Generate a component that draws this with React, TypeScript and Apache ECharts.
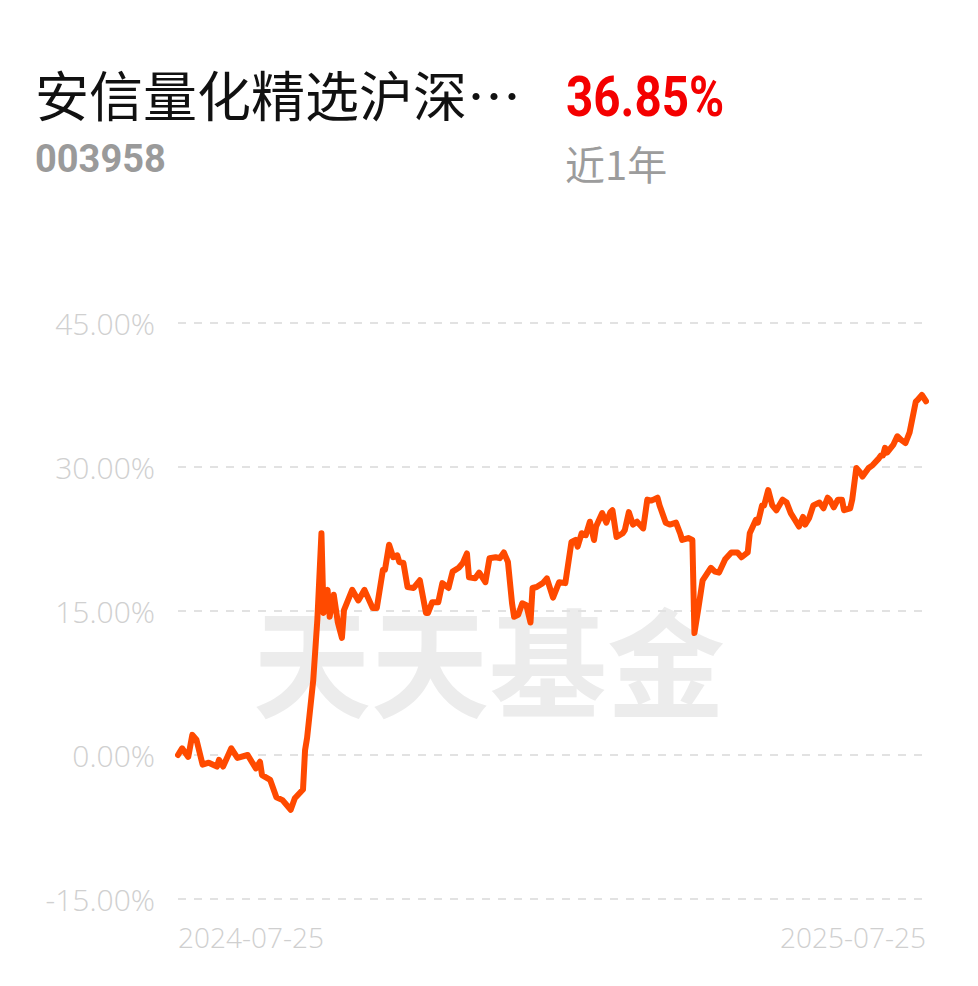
import React, { useEffect, useRef } from "react";
import * as echarts from "echarts";

const fundName = "安信量化精选沪深…";
const fundCode = "003958";
const periodReturn = "36.85%";
const periodLabel = "近1年";
const watermark = "天天基金";

const xTickLabels = ["2024-07-25", "2025-07-25"];
const xSpanDays = 365;

const yMin = -15;
const yMax = 45;
const yStep = 15;

// day offset from 2024-07-25
const dayOffsets = [
  0, 2, 5, 7, 9, 12, 15, 19, 20, 22,
  26, 29, 34, 38, 40, 41, 45, 48, 51, 55,
  57, 61, 62, 63, 66, 68, 70, 71, 73, 74,
  76, 78, 80, 81, 85, 88, 91, 95, 97, 100,
  101, 103, 105, 107, 108, 110, 112, 115, 118, 121,
  122, 124, 127, 129, 132, 134, 137, 139, 141, 142,
  145, 147, 150, 152, 155, 157, 159, 161, 163, 164,
  166, 168, 170, 172, 173, 175, 178, 180, 183, 186,
  189, 192, 194, 195, 197, 199, 201, 203, 204, 207,
  209, 211, 212, 214, 217, 218, 220, 222, 224, 227,
  229, 231, 234, 235, 238, 240, 243, 245, 246, 249,
  251, 252, 254, 256, 260, 262, 264, 267, 270, 273,
  275, 278, 279, 282, 283, 285, 286, 288, 290, 292,
  295, 297, 299, 301, 303, 305, 306, 308, 310, 313,
  315, 317, 318, 320, 322, 324, 325, 328, 329, 331,
  333, 334, 337, 339, 342, 343, 344, 345, 346, 349,
  351, 353, 355, 357, 360, 361, 363, 365,
];

// cumulative return, %
const returns = [
  0.0, 0.7, -0.2, 2.1, 1.6, -1.0, -0.8, -1.2, -0.5, -1.2,
  0.7, -0.3, 0.0, -1.4, -0.7, -2.1, -2.6, -4.4, -4.7, -5.7,
  -4.5, -3.6, 0.5, 1.8, 7.8, 14.1, 23.1, 14.8, 17.2, 14.4,
  16.7, 13.8, 12.2, 15.1, 17.2, 16.1, 17.2, 15.3, 15.3, 19.3,
  19.3, 21.9, 20.6, 20.8, 20.1, 20.0, 17.5, 17.4, 18.2, 14.8,
  14.8, 15.9, 15.9, 17.9, 17.4, 19.1, 19.5, 20.0, 21.0, 18.5,
  18.4, 19.0, 18.0, 20.5, 20.6, 20.5, 21.1, 20.1, 15.8, 14.4,
  14.6, 15.8, 15.6, 13.8, 17.4, 17.5, 17.9, 18.4, 16.4, 18.0,
  17.9, 22.2, 22.4, 21.7, 23.1, 22.9, 24.3, 22.4, 23.8, 25.2,
  24.2, 25.3, 25.5, 22.7, 23.1, 23.4, 25.3, 24.0, 24.3, 23.6,
  26.6, 26.5, 26.8, 26.0, 24.2, 24.0, 24.2, 23.1, 22.4, 22.6,
  22.4, 12.7, 15.4, 18.2, 19.5, 19.1, 19.0, 20.4, 21.1, 21.1,
  20.6, 21.1, 23.1, 24.5, 24.2, 26.0, 26.0, 27.6, 26.0, 25.5,
  26.6, 26.3, 25.2, 24.5, 23.8, 24.8, 24.0, 24.7, 26.0, 26.3,
  25.7, 26.8, 26.6, 25.8, 26.6, 26.6, 25.5, 25.7, 26.6, 29.9,
  29.4, 29.0, 29.9, 30.2, 30.9, 31.2, 31.2, 32.0, 31.5, 32.3,
  33.2, 32.8, 32.5, 33.6, 36.8, 37.0, 37.5, 36.85,
];

export default function App() {
  const ref = useRef<HTMLDivElement>(null);

  useEffect(() => {
    document.body.style.margin = "0";
    if (!ref.current) return;
    const chart = echarts.init(ref.current, null, { renderer: "svg" });
    const seriesData = dayOffsets.map((d, i) => [d, returns[i]]);
    const axisFont = "'Open Sans', 'Noto Sans', sans-serif";

    chart.setOption({
      animation: false,
      backgroundColor: "#ffffff",
      grid: { left: 178, right: 52, top: 323, bottom: 87, containLabel: false },
      xAxis: {
        type: "value",
        min: 0,
        max: xSpanDays,
        interval: xSpanDays,
        axisLine: { show: false },
        axisTick: { show: false },
        splitLine: { show: false },
        axisLabel: {
          margin: 24,
          color: "#cfcfcf",
          fontSize: 28,
          fontWeight: 300,
          fontFamily: axisFont,
          alignMinLabel: "left",
          alignMaxLabel: "right",
          formatter: (v: number) => (v === 0 ? xTickLabels[0] : xTickLabels[1]),
        },
      },
      yAxis: {
        type: "value",
        min: yMin,
        max: yMax,
        interval: yStep,
        axisLine: { show: false },
        axisTick: { show: false },
        axisLabel: {
          margin: 23,
          color: "#d0d0d0",
          fontSize: 30,
          fontWeight: 300,
          fontFamily: axisFont,
          formatter: (v: number) => `${v.toFixed(2)}%`,
        },
        splitLine: {
          show: true,
          lineStyle: { color: "#e2e2e2", width: 2, type: [8, 8] },
        },
      },
      graphic: {
        elements: [
          {
            type: "text",
            left: 253,
            top: 598,
            z: -10,
            silent: true,
            style: {
              text: watermark,
              fontSize: 118,
              fontWeight: "bold",
              fontFamily: "'Noto Sans CJK SC', sans-serif",
              fill: "#ececec",
            },
          },
          {
            type: "text",
            x: 35,
            y: 93,
            style: {
              text: fundName,
              fontSize: 54,
              fontFamily: "'Noto Sans CJK SC', sans-serif",
              fill: "#111111",
              verticalAlign: "middle",
            },
          },
          {
            type: "text",
            x: 35,
            y: 159,
            style: {
              text: fundCode,
              fontSize: 38,
              fontWeight: "bold",
              fontFamily: "Roboto, sans-serif",
              fill: "#9a9a9a",
              verticalAlign: "middle",
            },
          },
          {
            type: "text",
            x: 566,
            y: 97,
            scaleX: 0.85,
            style: {
              text: periodReturn,
              fontSize: 56,
              fontWeight: "bold",
              fontFamily: "Roboto, sans-serif",
              fill: "#f40000",
              verticalAlign: "middle",
            },
          },
          {
            type: "text",
            x: 565,
            y: 163,
            style: {
              text: periodLabel,
              fontSize: 40,
              fontFamily: "'Noto Sans CJK SC', sans-serif",
              fill: "#9c9c9c",
              verticalAlign: "middle",
            },
          },
        ],
      },
      series: [
        {
          type: "line",
          data: seriesData,
          showSymbol: false,
          symbol: "none",
          z: 5,
          lineStyle: { color: "#ff4a00", width: 6, cap: "round", join: "round" },
        },
      ],
    });

    return () => chart.dispose();
  }, []);

  return (
    <div
      ref={ref}
      style={{ position: "fixed", left: 0, top: 0, width: 978, height: 986 }}
    />
  );
}
